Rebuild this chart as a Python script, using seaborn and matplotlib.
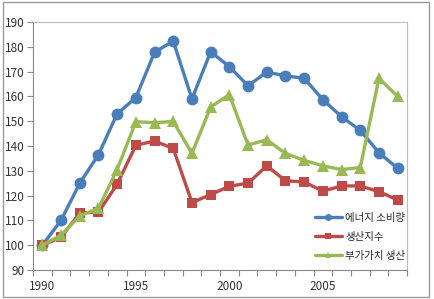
import pandas as pd
import seaborn as sns
import matplotlib.pyplot as plt
from matplotlib.patches import Rectangle
from matplotlib.lines import Line2D

# 연도 및 시리즈 값
years = list(range(1990, 2010))
energy = [100, 110, 125, 136.5, 153, 159.5, 177.8, 182.3, 159, 178,
          172, 164.3, 169.8, 168.3, 167.3, 158.7, 151.8, 146.3, 137.3, 131]
production = [100, 103.2, 113, 113.3, 124.6, 140.3, 142, 139, 117.2, 120.4,
              123.8, 125, 132, 126, 125.5, 121.8, 123.9, 123.9, 121.6, 118.2]
value_added = [100, 104, 111.8, 114.9, 130.5, 149.8, 149.4, 149.9, 137, 155.7,
               160.7, 140.4, 142.5, 137, 134.2, 132, 130.5, 131.3, 167.3, 160]
series_names = ['에너지 소비량', '생산지수', '부가가치 생산']
xtick_labels = ['1990', '1995', '2000', '2005']

colors = ['#4A7EBB', '#BE4B48', '#98B954']
marker_map = ['o', 's', '^']

df = pd.DataFrame({
    'idx': list(range(len(years))) * 3,
    'value': energy + production + value_added,
    'series': [series_names[0]] * len(years) + [series_names[1]] * len(years)
              + [series_names[2]] * len(years),
})

sns.set_style('white')
plt.rcParams['font.family'] = ['Noto Sans CJK KR', 'DejaVu Sans']

fig = plt.figure(figsize=(4.34, 2.99), dpi=100)
ax = fig.add_axes([33 / 434, 29 / 299, 374 / 434, 248 / 299])

sizes = {series_names[0]: 8.5, series_names[1]: 7.5, series_names[2]: 8}
for i, name in enumerate(series_names):
    sub = df[df['series'] == name]
    sns.lineplot(data=sub, x='idx', y='value', ax=ax, color=colors[i],
                 marker=marker_map[i], markersize=sizes[name],
                 markeredgewidth=0, linewidth=2.4, legend=False)

ax.set_xlim(-0.5, len(years) - 0.5)
ax.set_ylim(90, 190)
ax.set_yticks(range(90, 191, 10))
ax.set_xticks([0.5 + k for k in range(-1, len(years))], minor=True)
ax.set_xticks([years.index(int(t)) for t in xtick_labels])
ax.set_xticklabels(xtick_labels)
ax.tick_params(axis='x', which='major', length=0, labelsize=8.5, pad=7, colors='#333333')
ax.tick_params(axis='x', which='minor', length=4, width=0.8, color='#888888', direction='out', bottom=True)
ax.tick_params(axis='y', length=4, width=0.8, color='#888888', direction='out', left=True,
               labelsize=8.5, pad=2, labelcolor='#333333')
ax.set_xlabel('')
ax.set_ylabel('')
for s in ax.spines.values():
    s.set_color('#BBBBBB')
    s.set_linewidth(0.8)
ax.spines['left'].set_color('#888888')
ax.spines['bottom'].set_color('#888888')

handles = [Line2D([0], [0], color=colors[i], marker=marker_map[i], markersize=5,
                  markeredgewidth=0, linewidth=2.4) for i in range(3)]
ax.legend(handles, series_names, loc='lower right', frameon=False, fontsize=7.5,
          handlelength=2.6, handletextpad=0.3, labelspacing=0.85,
          bbox_to_anchor=(1.02, 0.0))

fig.patches.append(Rectangle((3 / 434, 2 / 299), 426 / 434, 295 / 299,
                             transform=fig.transFigure, fill=False,
                             edgecolor='#999999', linewidth=1))

fig.savefig('out.png', dpi=100)
